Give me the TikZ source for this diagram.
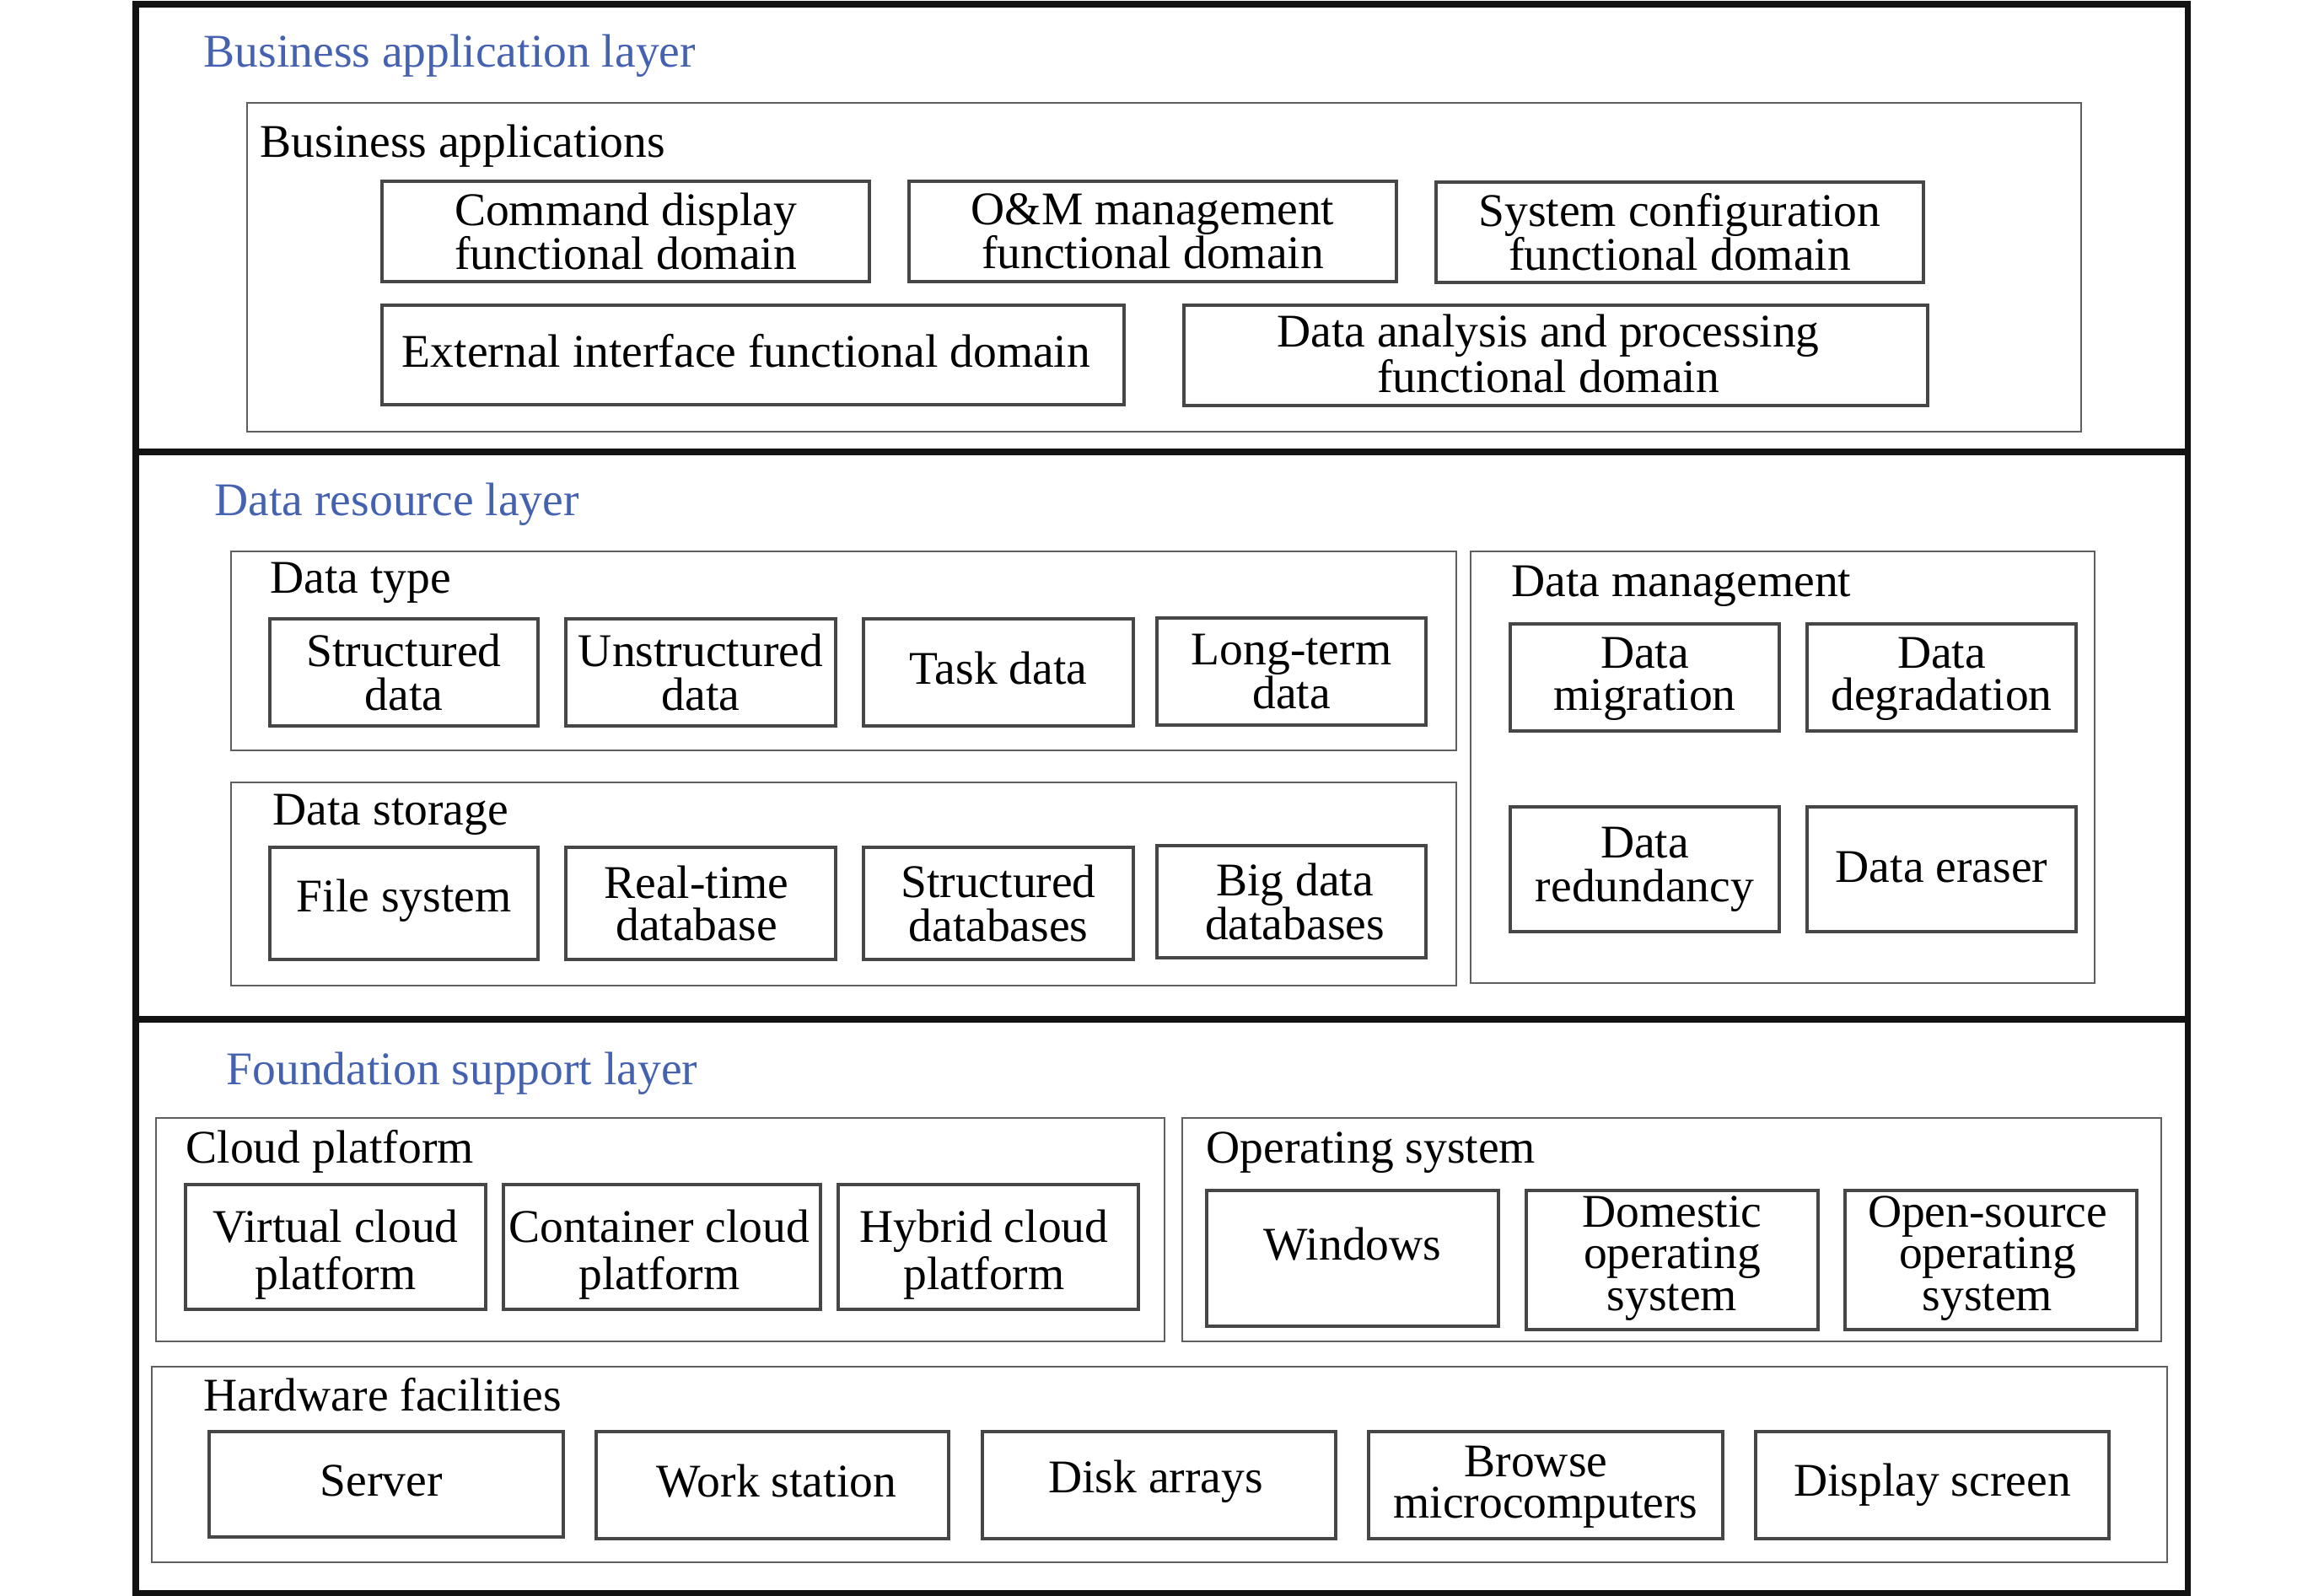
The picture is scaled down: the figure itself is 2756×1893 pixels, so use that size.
\documentclass[tikz,border=0pt]{standalone}
\usepackage{fontspec}
\setmainfont{Liberation Serif}
\definecolor{layerblue}{RGB}{69,98,176}
\definecolor{boxline}{RGB}{70,70,70}
\definecolor{contline}{RGB}{95,95,95}
% container / layer frame (no text)
\newcommand\cb[6][cbox]{\node[#1, minimum width={(#5-#3)*0.01cm}, minimum height={(#6-#4)*0.01cm}] (#2) at ({(#3+#5)/2},{(#4+#6)/2}) {};}
% item box with its text
\newcommand\bx[7]{\node[ibox, minimum width={(#4-#2)*0.01cm}, minimum height={(#5-#3)*0.01cm}] (#1) at ({(#2+#4)/2},{(#3+#5)/2}) {};
  \node[txt,#6] (#1-t) at (#1.center) {#7};}
\begin{document}
\begin{tikzpicture}[x=0.01cm,y=-0.01cm,
  font=\fontsize{15.8}{14.9}\selectfont,
  layer/.style={draw=black!93, line width=2pt, inner sep=0pt, outer sep=0pt},
  cbox/.style={draw=contline, line width=0.75pt, inner sep=0pt, outer sep=0pt},
  ibox/.style={draw=boxline, line width=0.9pt, inner sep=0pt, outer sep=0pt},
  txt/.style={inner sep=0pt, align=center},
  tight/.style={font=\fontsize{15.8}{14.1}\selectfont},
  loose/.style={font=\fontsize{15.8}{16.1}\selectfont},
  lbl/.style={inner sep=0pt, anchor=base west},
  ltitle/.style={lbl, text=layerblue}]
\useasboundingbox (0,0) rectangle (2756,1893);
% layers
\cb[layer]{L1}{161}{5}{2594}{536}
\cb[layer]{L2}{161}{536}{2594}{1209}
\cb[layer]{L3}{161}{1209}{2594}{1889}
\node[ltitle] (t1) at (241,79) {Business application layer};
\node[ltitle] (t2) at (254,611) {Data resource layer};
\node[ltitle] (t3) at (268,1286) {Foundation support layer};
% business applications
\cb{BA}{293}{122}{2468}{512}
\node[lbl] (tBA) at (308,186) {Business applications};
\bx{cmd}{453}{215}{1031}{334}{}{Command display\\functional domain}
\bx{om}{1078}{215}{1656}{334}{}{O\&M management\\functional domain}
\bx{sys}{1703}{216}{2281}{335}{}{System configuration\\functional domain}
\bx{ext}{453}{362}{1333}{480}{xshift=-0.08cm,yshift=0.05cm}{External interface functional domain}
\bx{dap}{1404}{362}{2286}{481}{tight,xshift=-0.09cm,yshift=0.02cm}{Data analysis and processing\\functional domain}
% data type
\cb{DT}{274}{654}{1727}{890}
\node[lbl] (tDT) at (320,703) {Data type};
\bx{sd}{320}{734}{638}{861}{}{Structured\\data}
\bx{ud}{671}{734}{991}{861}{}{Unstructured\\data}
\bx{td}{1024}{734}{1344}{861}{yshift=0.05cm}{Task data}
\bx{ltd}{1372}{733}{1691}{860}{}{Long-term\\data}
% data storage
\cb{DS}{274}{928}{1727}{1169}
\node[lbl] (tDS) at (323,978) {Data storage};
\bx{fs}{320}{1005}{638}{1138}{yshift=0.03cm}{File system}
\bx{rtd}{671}{1005}{991}{1138}{tight,xshift=-0.05cm}{Real-time\\database}
\bx{sdb}{1024}{1005}{1344}{1138}{}{Structured\\databases}
\bx{bdd}{1372}{1003}{1691}{1136}{xshift=0.04cm}{Big data\\databases}
% data management
\cb{DM}{1744}{654}{2484}{1166}
\node[lbl] (tDM) at (1792,707) {Data management};
\bx{dmig}{1791}{740}{2110}{867}{tight,yshift=-0.02cm}{Data\\migration}
\bx{ddeg}{2143}{740}{2462}{867}{tight,yshift=-0.02cm}{Data\\degradation}
\bx{dred}{1791}{957}{2110}{1105}{}{Data\\redundancy}
\bx{der}{2143}{957}{2462}{1105}{yshift=0.02cm}{Data eraser}
% cloud platform
\cb{CP}{185}{1326}{1381}{1591}
\node[lbl] (tCP) at (220,1379) {Cloud platform};
\bx{vc}{220}{1405}{576}{1553}{loose,yshift=-0.09cm}{Virtual cloud\\platform}
\bx{cc}{597}{1405}{973}{1553}{loose,xshift=-0.03cm,yshift=-0.09cm}{Container cloud\\platform}
\bx{hc}{994}{1405}{1350}{1553}{loose,xshift=-0.05cm,yshift=-0.09cm}{Hybrid cloud\\platform}
% operating system
\cb{OS}{1402}{1326}{2563}{1591}
\node[lbl] (tOS) at (1430,1379) {Operating system};
\bx{win}{1431}{1412}{1777}{1573}{yshift=0.17cm}{Windows}
\bx{dom}{1810}{1412}{2156}{1577}{tight,yshift=0.02cm}{Domestic\\operating\\system}
\bx{oss}{2188}{1412}{2534}{1577}{tight,xshift=-0.04cm,yshift=0.02cm}{Open-source\\operating\\system}
% hardware
\cb{HF}{180}{1621}{2570}{1853}
\node[lbl] (tHF) at (241,1673) {Hardware facilities};
\bx{srv}{248}{1698}{668}{1823}{xshift=-0.06cm,yshift=0.04cm}{Server}
\bx{ws}{707}{1698}{1125}{1825}{xshift=0.05cm,yshift=0.05cm}{Work station}
\bx{da}{1165}{1698}{1584}{1825}{xshift=-0.04cm,yshift=0.04cm}{Disk arrays}
\bx{bm}{1623}{1698}{2043}{1825}{tight,yshift=-0.02cm}{Browse\hspace*{0.23cm}\\microcomputers}
\bx{ds}{2082}{1698}{2501}{1825}{}{Display screen}
\end{tikzpicture}
\end{document}
